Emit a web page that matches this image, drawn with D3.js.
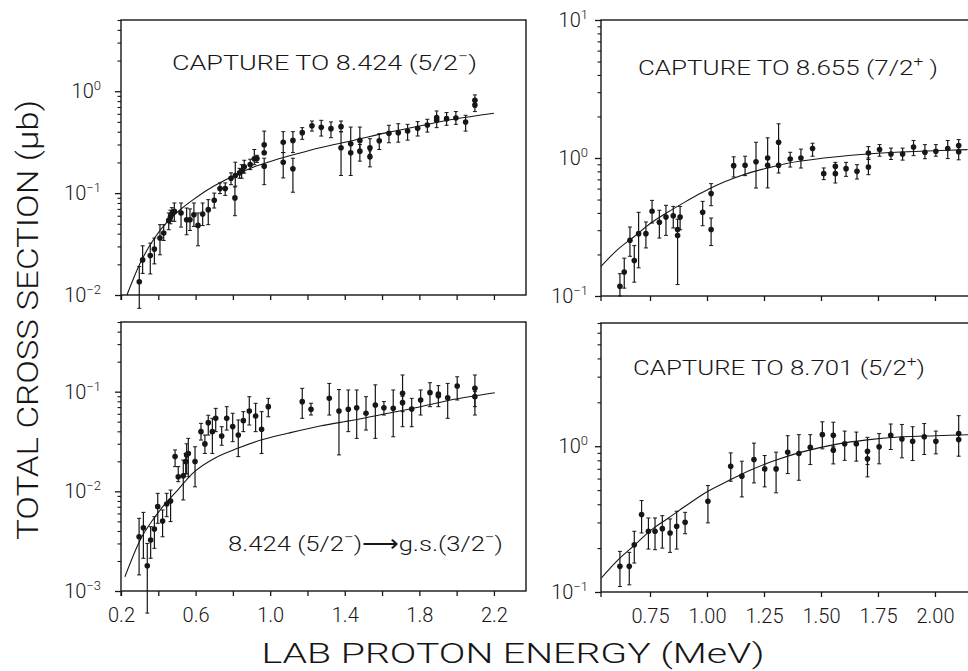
<!DOCTYPE html>
<html>
<head>
<meta charset="utf-8">
<script src="https://cdn.jsdelivr.net/npm/d3@7"></script>
<style>
  html, body { margin: 0; padding: 0; background: #fff; }
  svg { display: block; }
  text { font-family: Roboto, "DejaVu Sans", sans-serif; font-weight: 300; fill: #161616; }
</style>
</head>
<body>
<svg id="chart" width="968" height="671"></svg>
<script>
// ---- Measured cross sections: [energy (MeV), sigma (µb), lower, upper] ----
const capture8424 = [
  [0.298, 0.0135, 0.0074, 0.019], [0.316, 0.0221, 0.0163, 0.0304], [0.357, 0.0244, 0.0161, 0.0323],
  [0.379, 0.0282, 0.0202, 0.0362], [0.409, 0.0362, 0.0248, 0.049], [0.429, 0.0405, 0.0343, 0.049],
  [0.456, 0.054, 0.0437, 0.0638], [0.465, 0.0582, 0.05, 0.068], [0.473, 0.0623, 0.053, 0.072],
  [0.486, 0.0663, 0.0528, 0.08], [0.522, 0.0638, 0.0464, 0.08], [0.552, 0.0548, 0.039, 0.0714],
  [0.570, 0.0548, 0.043, 0.07], [0.591, 0.0614, 0.0471, 0.08], [0.613, 0.0482, 0.0304, 0.0638],
  [0.638, 0.0623, 0.048, 0.08], [0.668, 0.0688, 0.049, 0.0863], [0.700, 0.0851, 0.0714, 0.100],
  [0.731, 0.1107, 0.0989, 0.126], [0.759, 0.1107, 0.095, 0.126], [0.790, 0.140, 0.121, 0.158],
  [0.811, 0.0897, 0.060, 0.115], [0.813, 0.149, 0.117, 0.201], [0.836, 0.158, 0.14, 0.175],
  [0.847, 0.164, 0.14, 0.19], [0.861, 0.181, 0.157, 0.21], [0.893, 0.191, 0.17, 0.215],
  [0.915, 0.217, 0.19, 0.268], [0.929, 0.218, 0.2, 0.235], [0.968, 0.298, 0.25, 0.406],
  [0.968, 0.249, null, null], [0.968, 0.184, 0.121, 0.22], [1.070, 0.316, 0.25, 0.401],
  [1.070, 0.201, 0.141, 0.25], [1.122, 0.329, 0.25, 0.401], [1.122, 0.173, 0.102, 0.22],
  [1.172, 0.392, 0.337, 0.439], [1.224, 0.459, 0.406, 0.510], [1.274, 0.442, 0.363, 0.518],
  [1.326, 0.429, 0.35, 0.50], [1.380, 0.449, 0.40, 0.51], [1.380, 0.279, 0.149, 0.40],
  [1.432, 0.305, 0.149, 0.445], [1.432, 0.249, null, null], [1.481, 0.329, 0.26, 0.445],
  [1.481, 0.258, 0.206, 0.30], [1.535, 0.279, 0.24, 0.342], [1.535, 0.227, 0.181, 0.26],
  [1.585, 0.327, 0.268, 0.383], [1.637, 0.386, 0.312, 0.463], [1.687, 0.392, 0.316, 0.480],
  [1.737, 0.406, 0.331, 0.473], [1.791, 0.432, 0.363, 0.503], [1.843, 0.466, 0.397, 0.530],
  [1.893, 0.550, 0.439, 0.640], [1.893, 0.520, null, null], [1.946, 0.538, 0.463, 0.617],
  [1.996, 0.546, 0.473, 0.631], [2.048, 0.499, 0.406, 0.580], [2.098, 0.815, 0.70, 0.92],
  [2.098, 0.733, 0.631, 0.80]
];

const decay8424 = [
  [0.297, 0.0035, 0.00145, 0.00536], [0.320, 0.00431, 0.00213, 0.00615], [0.341, 0.00179, 0.0006, 0.003],
  [0.359, 0.00325, 0.00213, 0.00442], [0.379, 0.00419, 0.00268, 0.00557], [0.397, 0.00702, 0.00478, 0.00955],
  [0.423, 0.00504, 0.0035, 0.0065], [0.445, 0.00746, 0.00557, 0.00955], [0.466, 0.0080, 0.00497, 0.0103],
  [0.490, 0.0223, 0.0177, 0.026], [0.507, 0.0140, 0.0125, 0.0177], [0.534, 0.0143, 0.0082, 0.0206],
  [0.547, 0.0199, 0.015, 0.024], [0.552, 0.0232, 0.015, 0.03], [0.561, 0.024, 0.014, 0.034],
  [0.597, 0.0199, 0.0111, 0.028], [0.629, 0.0397, 0.0327, 0.0481], [0.650, 0.0299, 0.024, 0.0367],
  [0.668, 0.0489, 0.0367, 0.058], [0.690, 0.0397, 0.024, 0.054], [0.708, 0.054, 0.0397, 0.068],
  [0.740, 0.0359, 0.029, 0.0445], [0.767, 0.054, 0.0412, 0.0707], [0.799, 0.0446, 0.0315, 0.0607],
  [0.829, 0.0367, 0.0223, 0.052], [0.856, 0.0512, 0.0397, 0.063], [0.888, 0.064, 0.0463, 0.089],
  [0.922, 0.057, 0.0397, 0.0764], [0.954, 0.0419, 0.024, 0.063], [0.990, 0.0707, 0.056, 0.0857],
  [1.172, 0.0794, 0.054, 0.108], [1.219, 0.0665, 0.0583, 0.0765], [1.317, 0.0857, 0.0583, 0.121],
  [1.369, 0.064, 0.0232, 0.105], [1.419, 0.0665, 0.0397, 0.104], [1.464, 0.069, 0.034, 0.104],
  [1.514, 0.0607, 0.0412, 0.0891], [1.564, 0.0735, 0.034, 0.117], [1.610, 0.069, 0.0583, 0.0795],
  [1.660, 0.068, 0.0353, 0.104], [1.710, 0.0962, 0.063, 0.147], [1.710, 0.0776, 0.0445, 0.09],
  [1.759, 0.067, 0.0445, 0.0857], [1.807, 0.0824, 0.0583, 0.104], [1.857, 0.0977, 0.0707, 0.123],
  [1.902, 0.0948, 0.0707, 0.115], [1.902, 0.091, null, null], [1.952, 0.087, 0.054, 0.121],
  [2.003, 0.114, 0.0825, 0.141], [2.098, 0.108, 0.0707, 0.147], [2.098, 0.0891, 0.0583, 0.10]
];

const capture8655 = [
  [0.618, 0.1175, 0.100, 0.145], [0.637, 0.149, 0.114, 0.188], [0.662, 0.253, 0.194, 0.316],
  [0.681, 0.181, 0.126, 0.232], [0.700, 0.283, 0.160, 0.404], [0.732, 0.283, 0.223, 0.344],
  [0.759, 0.411, 0.338, 0.493], [0.791, 0.342, 0.263, 0.418], [0.820, 0.373, 0.275, 0.454],
  [0.852, 0.382, 0.311, 0.446], [0.871, 0.303, 0.121, 0.36], [0.871, 0.274, null, null],
  [0.882, 0.373, 0.302, 0.446], [0.981, 0.404, 0.323, 0.485], [1.018, 0.552, 0.451, 0.652],
  [1.018, 0.303, 0.232, 0.367], [1.117, 0.880, 0.728, 1.02], [1.167, 0.885, 0.745, 1.03],
  [1.215, 0.940, 0.606, 1.30], [1.266, 1.000, 0.607, 1.40], [1.266, 0.885, null, null],
  [1.314, 1.300, 0.778, 1.77], [1.314, 0.885, null, null], [1.365, 0.983, 0.86, 1.10],
  [1.412, 1.000, 0.846, 1.16], [1.463, 1.170, 1.03, 1.28], [1.512, 0.770, 0.697, 0.847],
  [1.563, 0.870, 0.757, 0.93], [1.563, 0.770, 0.659, 0.85], [1.610, 0.837, 0.736, 0.93],
  [1.658, 0.800, 0.704, 0.895], [1.708, 0.861, 0.757, 1.0], [1.708, 1.087, 0.975, 1.21],
  [1.757, 1.150, 1.03, 1.25], [1.807, 1.070, 0.975, 1.18], [1.858, 1.070, 0.965, 1.18],
  [1.906, 1.200, 1.04, 1.34], [1.956, 1.100, 0.988, 1.25], [2.004, 1.120, 1.03, 1.25],
  [2.056, 1.170, 0.99, 1.34], [2.104, 1.230, 0.97, 1.36], [2.104, 1.110, null, null]
];

const capture8701 = [
  [0.618, 0.150, 0.109, 0.190], [0.659, 0.150, 0.112, 0.187], [0.681, 0.211, 0.158, 0.261],
  [0.713, 0.340, 0.254, 0.424], [0.743, 0.261, 0.197, 0.322], [0.772, 0.261, 0.195, 0.322],
  [0.804, 0.272, 0.200, 0.334], [0.838, 0.254, 0.187, 0.317], [0.867, 0.282, 0.197, 0.358],
  [0.904, 0.301, 0.251, 0.352], [1.004, 0.419, 0.298, 0.537], [1.104, 0.729, 0.575, 0.90],
  [1.153, 0.623, 0.449, 0.789], [1.206, 0.810, 0.560, 1.05], [1.253, 0.699, 0.526, 0.863],
  [1.303, 0.699, 0.479, 0.91], [1.354, 0.910, 0.649, 1.18], [1.403, 0.891, 0.584, 1.20],
  [1.453, 0.984, 0.748, 1.20], [1.506, 1.200, 0.959, 1.47], [1.554, 1.190, 0.974, 1.46],
  [1.554, 0.939, 0.756, 1.0], [1.604, 1.040, 0.80, 1.27], [1.655, 1.040, 0.79, 1.25],
  [1.704, 0.924, 0.748, 1.15], [1.704, 0.819, 0.616, 0.9], [1.755, 0.990, 0.757, 1.22],
  [1.806, 1.190, 0.949, 1.42], [1.855, 1.120, 0.832, 1.41], [1.902, 1.080, 0.797, 1.36],
  [1.953, 1.160, 0.877, 1.43], [2.004, 1.080, 0.886, 1.27], [2.104, 1.220, 0.854, 1.62],
  [2.104, 1.110, null, null]
];

// ---- Calculated excitation functions: [energy (MeV), sigma (µb)] ----
const curve8424 = [
  [0.232, 0.010], [0.307, 0.0213], [0.379, 0.0361], [0.45, 0.0528], [0.522, 0.0698], [0.593, 0.0877],
  [0.665, 0.108], [0.736, 0.128], [0.808, 0.149], [0.915, 0.181], [1.022, 0.21], [1.129, 0.239],
  [1.267, 0.279], [1.446, 0.329], [1.625, 0.392], [1.803, 0.456], [1.982, 0.53], [2.2, 0.607]
];
const curveDecay8424 = [
  [0.221, 0.00139], [0.307, 0.00337], [0.37, 0.00515], [0.432, 0.0073], [0.504, 0.0103], [0.593, 0.0157],
  [0.7, 0.0214], [0.826, 0.027], [0.951, 0.0327], [1.094, 0.0382], [1.267, 0.0453], [1.451, 0.052],
  [1.63, 0.0607], [1.808, 0.0707], [1.987, 0.0838], [2.205, 0.0977]
];
const curve8655 = [
  [0.535, 0.164], [0.608, 0.217], [0.681, 0.27], [0.754, 0.338], [0.827, 0.404], [0.901, 0.477],
  [0.974, 0.557], [1.047, 0.641], [1.12, 0.717], [1.193, 0.787], [1.266, 0.847], [1.339, 0.905],
  [1.412, 0.951], [1.558, 1.017], [1.705, 1.07], [1.851, 1.105], [1.997, 1.13], [2.143, 1.15]
];
const curve8701 = [
  [0.537, 0.125], [0.611, 0.167], [0.684, 0.211], [0.757, 0.268], [0.831, 0.322], [0.904, 0.387],
  [1.004, 0.491], [1.104, 0.59], [1.197, 0.692], [1.3, 0.801], [1.418, 0.914], [1.564, 1.03],
  [1.711, 1.11], [1.858, 1.16], [2.004, 1.18], [2.151, 1.2]
];

// ---- Axis ticks and labels ----
const energyTicksLeft = [0.2, 0.4, 0.6, 0.8, 1.0, 1.2, 1.4, 1.6, 1.8, 2.0, 2.2];
const energyLabelsLeft = [0.2, 0.6, 1.0, 1.4, 1.8, 2.2];
const energyTicksRight = [0.75, 1.00, 1.25, 1.50, 1.75, 2.00];
const decadesTL = [0.01, 0.1, 1];
const decadesBL = [0.001, 0.01, 0.1];
const decadesTR = [0.1, 1, 10];
const decadesBR = [0.1, 1];

// ---- Titles (segments: [text, superscript?]) ----
const titleTL = [["CAPTURE TO 8.424 (5/2", false], ["\u2212", true], [")", false]];
const titleTR = [["CAPTURE TO 8.655 (7/2", false], ["+", true], [" )", false]];
const titleBR = [["CAPTURE TO 8.701 (5/2", false], ["+", true], [")", false]];
const titleBL = [["8.424 (5/2", false], ["\u2212", true], [")\u27F6g.s.(3/2", false], ["\u2212", true], [")", false]];
const yTitle = "TOTAL CROSS SECTION (\u03BCb)";
const xTitle = "LAB PROTON ENERGY (MeV)";

const ink = "#161616";
const svg = d3.select("#chart");

const panels = [
  { pts: capture8424, curve: curve8424, left: 121, right: 526, top: 20, bottom: 295,
    xDomain: [0.2, 2.372], yDomain: [0.01, 5], xTicks: energyTicksLeft, xLabels: null,
    decades: decadesTL, labelGap: 20,
    title: titleTL, tx: 172, ty: 70, tlen: 305 },
  { pts: decay8424, curve: curveDecay8424, left: 121, right: 526, top: 322, bottom: 591,
    xDomain: [0.2, 2.372], yDomain: [0.001, 0.5], xTicks: energyTicksLeft, xLabels: energyLabelsLeft,
    labelFmt: d3.format(".1f"), decades: decadesBL, labelGap: 20,
    title: titleBL, tx: 228, ty: 551, tlen: 275 },
  { pts: capture8655, curve: curve8655, left: 601, right: 976, top: 20, bottom: 296,
    xDomain: [0.535, 2.18], yDomain: [0.1, 10], xTicks: energyTicksRight, xLabels: null,
    decades: decadesTR, labelGap: 13,
    title: titleTR, tx: 638, ty: 75, tlen: 300 },
  { pts: capture8701, curve: curve8701, left: 601, right: 976, top: 323, bottom: 592,
    xDomain: [0.535, 2.18], yDomain: [0.1, 7], xTicks: energyTicksRight, xLabels: energyTicksRight,
    labelFmt: d3.format(".2f"), decades: decadesBR, labelGap: 13,
    title: titleBR, tx: 633, ty: 375, tlen: 292 }
];

function near(a, b) { return Math.abs(a - b) < 1e-6; }

function addRichText(sel, segs, size, supSize) {
  segs.forEach(([t, sup], i) => {
    const ts = sel.append("tspan").text(t);
    if (sup) ts.attr("font-size", supSize).attr("dy", -size * 0.42);
    else if (i > 0 && segs[i - 1][1]) ts.attr("dy", size * 0.42);
  });
}

panels.forEach(p => {
  const x = d3.scaleLinear().domain(p.xDomain).range([p.left, p.right]);
  const y = d3.scaleLog().domain(p.yDomain).range([p.bottom, p.top]);
  const g = svg.append("g");

  // frame
  g.append("rect")
    .attr("x", p.left).attr("y", p.top)
    .attr("width", p.right - p.left).attr("height", p.bottom - p.top)
    .attr("fill", "none").attr("stroke", ink).attr("stroke-width", 1.4);
  // frame corner runs slightly below the bottom edge
  g.append("line").attr("x1", p.left).attr("x2", p.left)
    .attr("y1", p.bottom).attr("y2", p.bottom + 5)
    .attr("stroke", ink).attr("stroke-width", 1.3);

  // energy axis
  const xa = d3.axisBottom(x).tickValues(p.xTicks).tickSize(5).tickSizeOuter(0).tickPadding(12)
    .tickFormat(d => (p.xLabels && p.xLabels.some(v => near(v, d))) ? p.labelFmt(d) : "");
  const xg = g.append("g").attr("transform", `translate(0,${p.bottom})`).call(xa);
  xg.select(".domain").remove();
  xg.selectAll("line").attr("stroke", ink).attr("stroke-width", 1.3);
  xg.selectAll("text").attr("font-size", 20).attr("font-family", null).attr("fill", ink);

  // log cross-section axis: minor then major ticks
  const minor = y.ticks().filter(v => !p.decades.some(d => near(d, v)));
  const ym = g.append("g").attr("transform", `translate(${p.left},0)`)
    .call(d3.axisLeft(y).tickValues(minor).tickSize(3.5).tickSizeOuter(0).tickFormat(""));
  ym.select(".domain").remove();
  ym.selectAll("line").attr("stroke", ink).attr("stroke-width", 1.1);
  const yM = g.append("g").attr("transform", `translate(${p.left},0)`)
    .call(d3.axisLeft(y).tickValues(p.decades).tickSize(6).tickSizeOuter(0).tickFormat(""));
  yM.select(".domain").remove();
  yM.selectAll("line").attr("stroke", ink).attr("stroke-width", 1.3);

  // decade labels 10^n
  p.decades.forEach(d => {
    const e = Math.round(Math.log10(d));
    const t = g.append("text")
      .attr("x", p.left - p.labelGap).attr("y", y(d) + 7)
      .attr("text-anchor", "end").attr("font-size", 20);
    t.append("tspan").text("10");
    t.append("tspan").attr("font-size", 13).attr("dy", -8)
      .text(e < 0 ? "\u2212" + (-e) : String(e));
  });

  // calculated curve
  g.append("path")
    .datum(p.curve)
    .attr("fill", "none").attr("stroke", ink).attr("stroke-width", 1.1)
    .attr("d", d3.line().x(d => x(d[0])).y(d => y(d[1])).curve(d3.curveCatmullRom));

  // error bars
  const withErr = p.pts.filter(d => d[2] != null);
  g.append("g").selectAll("line.err").data(withErr).join("line")
    .attr("x1", d => x(d[0])).attr("x2", d => x(d[0]))
    .attr("y1", d => y(d[3])).attr("y2", d => y(d[2]))
    .attr("stroke", ink).attr("stroke-width", 1.2);
  const caps = [];
  withErr.forEach(d => { caps.push([d[0], d[2]]); caps.push([d[0], d[3]]); });
  g.append("g").selectAll("line.cap").data(caps).join("line")
    .attr("x1", d => x(d[0]) - 2).attr("x2", d => x(d[0]) + 2)
    .attr("y1", d => y(d[1])).attr("y2", d => y(d[1]))
    .attr("stroke", ink).attr("stroke-width", 1);

  // data points
  g.append("g").selectAll("circle").data(p.pts).join("circle")
    .attr("cx", d => x(d[0])).attr("cy", d => y(d[1])).attr("r", 2.8)
    .attr("fill", ink);

  // panel title
  const tt = g.append("text").attr("x", p.tx).attr("y", p.ty).attr("font-size", 21)
    .attr("textLength", p.tlen).attr("lengthAdjust", "spacingAndGlyphs");
  addRichText(tt, p.title, 21, 14);
});

// shared axis titles
svg.append("text")
  .attr("transform", "translate(38,320) rotate(-90)")
  .attr("text-anchor", "middle").attr("font-size", 29)
  .attr("textLength", 440).attr("lengthAdjust", "spacingAndGlyphs")
  .text(yTitle);
svg.append("text")
  .attr("x", 513).attr("y", 663)
  .attr("text-anchor", "middle").attr("font-size", 27)
  .attr("textLength", 503).attr("lengthAdjust", "spacingAndGlyphs")
  .text(xTitle);
</script>
</body>
</html>
